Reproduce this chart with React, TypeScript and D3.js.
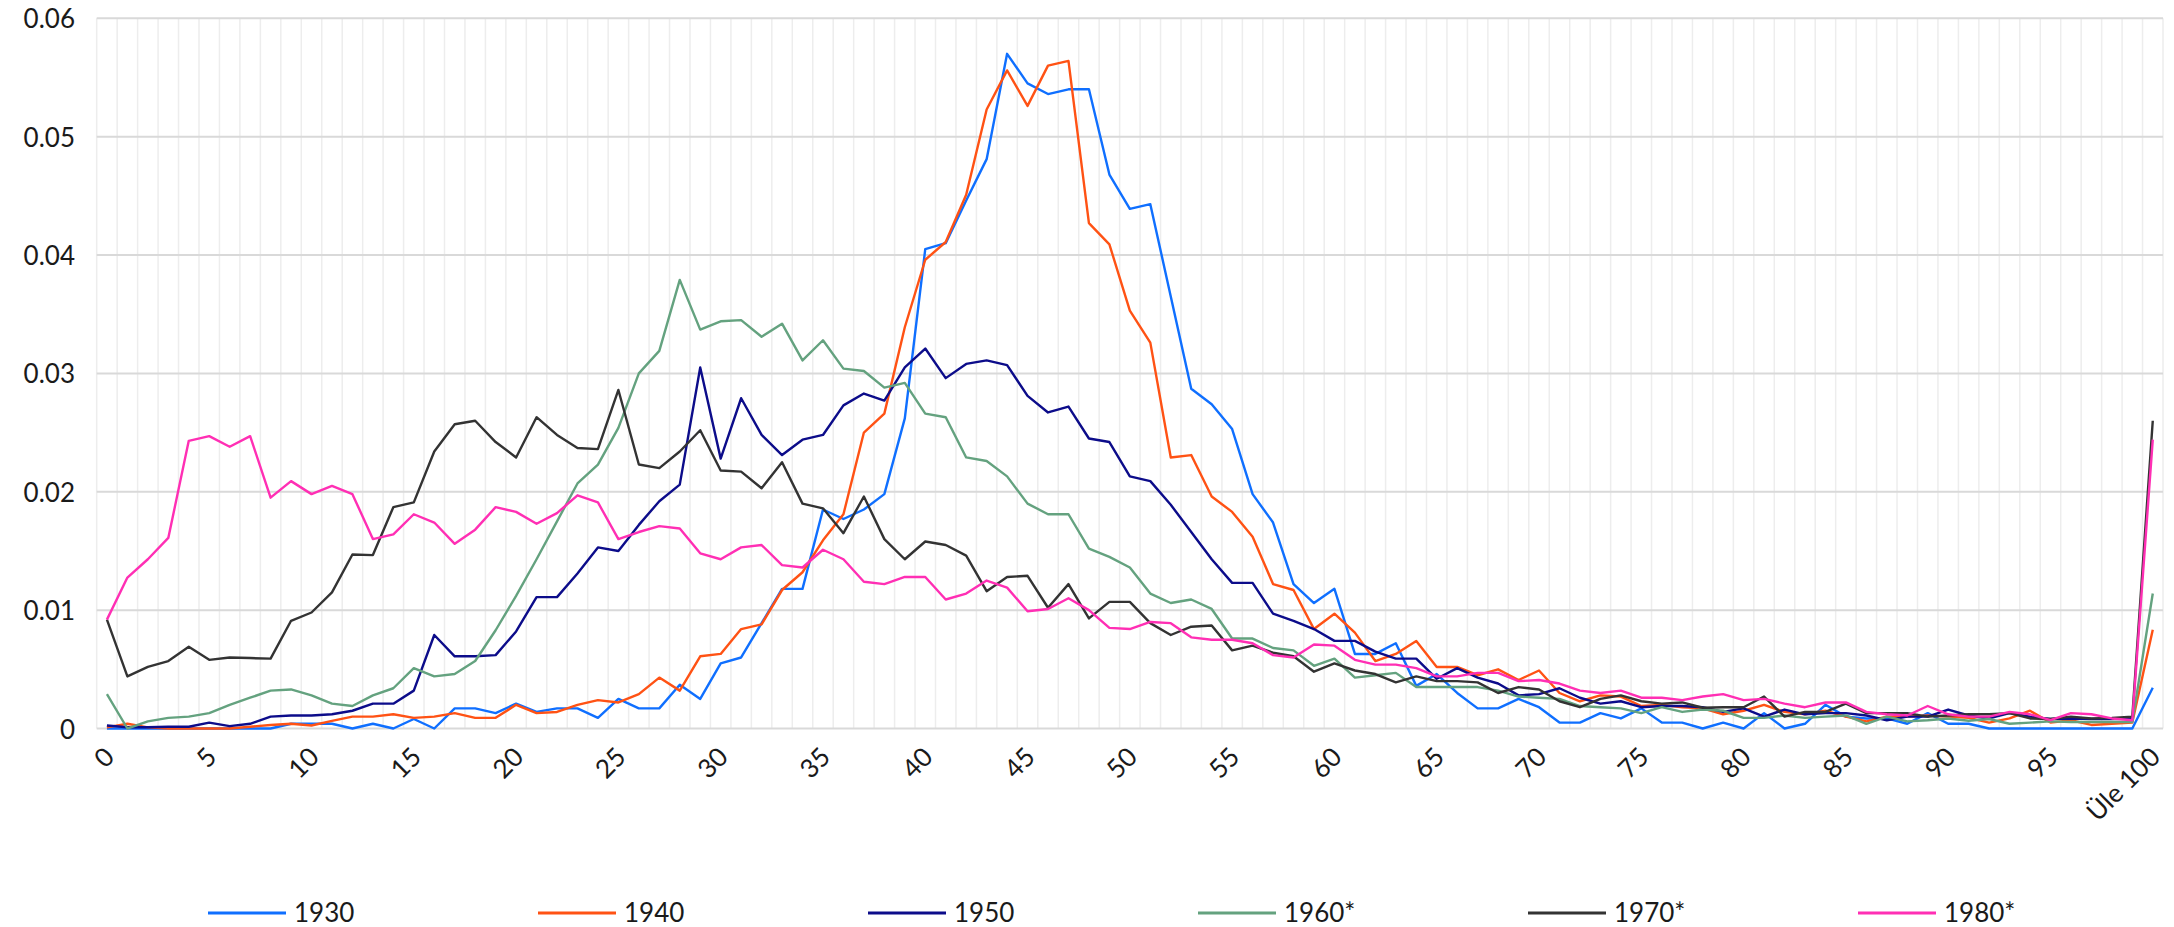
import React, { useEffect, useRef } from "react";
import * as d3 from "d3";

// age 0..99, last bucket is "Üle 100"
const ages = d3.range(0, 101);
const xTickAges = [0, 5, 10, 15, 20, 25, 30, 35, 40, 45, 50, 55, 60, 65, 70, 75, 80, 85, 90, 95, 100];
const xTickLabels = ["0", "5", "10", "15", "20", "25", "30", "35", "40", "45", "50", "55", "60", "65", "70", "75", "80", "85", "90", "95", "Üle 100"];
const yTicks = [0, 0.01, 0.02, 0.03, 0.04, 0.05, 0.06];
const yTickLabels = ["0", "0.01", "0.02", "0.03", "0.04", "0.05", "0.06"];

const seriesNames = ["1930", "1940", "1950", "1960*", "1970*", "1980*"];
const seriesColors = ["#0f6fff", "#ff5214", "#0c0c8a", "#64a27f", "#333333", "#ff2fb4"];

// values in thousandths
const s1930 = [
  0, 0, 0, 0, 0, 0, 0, 0, 0, 0.4, 0.4, 0.4, 0, 0.4, 0, 0.8, 0, 1.7, 1.7, 1.3,
  2.1, 1.4, 1.7, 1.7, 0.9, 2.5, 1.7, 1.7, 3.7, 2.5, 5.5, 6.0, 8.9, 11.8, 11.8, 18.5, 17.7, 18.5, 19.8, 26.2,
  40.5, 41.0, 44.6, 48.1, 57.0, 54.5, 53.6, 54.0, 54.0, 46.8, 43.9, 44.3, 36.5, 28.7, 27.4, 25.3, 19.8, 17.4, 12.2, 10.6,
  11.8, 6.3, 6.3, 7.2, 3.6, 4.6, 3.0, 1.7, 1.7, 2.5, 1.8, 0.5, 0.5, 1.3, 0.85, 1.7, 0.5, 0.5, 0, 0.5,
  0, 1.3, 0, 0.4, 2.0, 1.0, 0.85, 0.85, 0.4, 1.3, 0.4, 0.4, 0, 0, 0, 0, 0, 0, 0, 0, 3.45,
];
const s1940 = [
  0.1, 0.4, 0.1, 0, 0, 0, 0, 0.15, 0.3, 0.4, 0.25, 0.65, 1.0, 1.0, 1.2, 0.9, 1.0, 1.3, 0.9, 0.9,
  2.0, 1.3, 1.4, 2.0, 2.4, 2.2, 2.9, 4.3, 3.2, 6.1, 6.3, 8.4, 8.8, 11.7, 13.2, 15.9, 18.1, 25.0, 26.6, 33.9,
  39.6, 41.1, 45.1, 52.3, 55.6, 52.6, 56.0, 56.4, 42.7, 40.9, 35.3, 32.6, 22.9, 23.1, 19.6, 18.3, 16.2, 12.2, 11.7, 8.4,
  9.7, 8.1, 5.7, 6.3, 7.4, 5.2, 5.2, 4.5, 5.0, 4.1, 4.9, 3.0, 2.3, 2.8, 2.7, 1.9, 2.0, 1.8, 1.7, 1.2,
  1.5, 2.0, 1.4, 1.2, 1.5, 1.0, 0.6, 1.0, 1.0, 1.1, 1.0, 0.9, 0.5, 0.85, 1.5, 0.5, 0.7, 0.3, 0.4, 0.5, 8.35,
];
// no value for the last bucket
const s1950 = [
  0.25, 0.1, 0.1, 0.15, 0.15, 0.5, 0.2, 0.4, 1.0, 1.1, 1.1, 1.2, 1.5, 2.1, 2.1, 3.2, 7.9, 6.1, 6.1, 6.2,
  8.2, 11.1, 11.1, 13.1, 15.3, 15.0, 17.2, 19.2, 20.6, 30.5, 22.8, 27.9, 24.8, 23.1, 24.4, 24.8, 27.3, 28.3, 27.7, 30.5,
  32.1, 29.6, 30.8, 31.1, 30.7, 28.1, 26.7, 27.2, 24.5, 24.2, 21.3, 20.9, 18.9, 16.6, 14.3, 12.3, 12.3, 9.7, 9.1, 8.4,
  7.4, 7.4, 6.5, 5.9, 5.9, 4.2, 5.1, 4.3, 3.8, 2.8, 2.9, 3.4, 2.6, 2.1, 2.3, 1.8, 1.9, 1.9, 1.8, 1.4,
  1.7, 1.0, 1.6, 1.2, 1.3, 1.3, 1.1, 0.7, 1.0, 1.0, 1.6, 1.1, 0.85, 1.3, 1.0, 0.8, 0.85, 0.8, 0.8, 0.85, null,
];
const s1960 = [
  2.9, 0, 0.6, 0.9, 1.0, 1.3, 2.0, 2.6, 3.2, 3.3, 2.8, 2.1, 1.9, 2.8, 3.4, 5.1, 4.4, 4.6, 5.7, 8.3,
  11.2, 14.3, 17.5, 20.7, 22.3, 25.4, 30.0, 31.9, 37.9, 33.7, 34.4, 34.5, 33.1, 34.2, 31.1, 32.8, 30.4, 30.2, 28.8, 29.2,
  26.6, 26.3, 22.9, 22.6, 21.3, 19.0, 18.1, 18.1, 15.2, 14.5, 13.6, 11.4, 10.6, 10.9, 10.1, 7.6, 7.6, 6.8, 6.6, 5.3,
  5.9, 4.3, 4.5, 4.7, 3.5, 3.5, 3.5, 3.5, 3.2, 2.7, 2.6, 2.5, 1.9, 1.8, 1.7, 1.3, 1.8, 1.4, 1.6, 1.5,
  0.9, 0.9, 1.1, 0.9, 1.0, 1.1, 0.4, 1.0, 0.6, 0.7, 0.85, 0.65, 0.8, 0.4, 0.5, 0.6, 0.55, 0.55, 0.55, 0.55, 11.4,
];
const s1970 = [
  9.2, 4.4, 5.2, 5.7, 6.9, 5.8, 6.0, 5.95, 5.9, 9.1, 9.8, 11.5, 14.7, 14.65, 18.7, 19.1, 23.4, 25.7, 26.0, 24.2,
  22.9, 26.3, 24.8, 23.7, 23.6, 28.6, 22.3, 22.0, 23.4, 25.2, 21.8, 21.7, 20.3, 22.5, 19.0, 18.6, 16.5, 19.6, 16.0, 14.3,
  15.8, 15.5, 14.6, 11.6, 12.8, 12.9, 10.2, 12.2, 9.3, 10.7, 10.7, 8.9, 7.9, 8.6, 8.7, 6.6, 7.0, 6.4, 6.1, 4.8,
  5.5, 4.9, 4.6, 3.9, 4.4, 4.0, 4.0, 3.9, 3.0, 3.5, 3.3, 2.3, 1.8, 2.5, 2.8, 2.3, 2.1, 2.2, 1.75, 1.8,
  1.8, 2.7, 1.0, 1.4, 1.4, 2.1, 1.3, 1.3, 1.3, 1.0, 1.1, 1.2, 1.2, 1.3, 0.85, 0.8, 1.0, 0.85, 0.9, 1.0, 26.0,
];
const s1980 = [
  9.2, 12.75, 14.3, 16.1, 24.3, 24.7, 23.8, 24.7, 19.5, 20.9, 19.8, 20.5, 19.8, 16.0, 16.4, 18.1, 17.4, 15.6, 16.8, 18.7,
  18.3, 17.3, 18.2, 19.7, 19.1, 16.0, 16.6, 17.1, 16.9, 14.8, 14.3, 15.3, 15.5, 13.8, 13.6, 15.1, 14.3, 12.4, 12.2, 12.8,
  12.8, 10.9, 11.4, 12.5, 11.9, 9.9, 10.1, 11.0, 10.0, 8.5, 8.4, 9.0, 8.9, 7.7, 7.5, 7.5, 7.2, 6.2, 6.0, 7.1,
  7.0, 5.8, 5.4, 5.4, 5.1, 4.4, 4.4, 4.7, 4.7, 4.0, 4.1, 3.8, 3.2, 3.0, 3.2, 2.6, 2.6, 2.4, 2.7, 2.9,
  2.4, 2.5, 2.1, 1.8, 2.2, 2.2, 1.4, 1.2, 1.1, 1.9, 1.2, 1.0, 1.0, 1.4, 1.2, 0.7, 1.3, 1.2, 0.85, 0.7, 24.4,
];
const seriesValues = [s1930, s1940, s1950, s1960, s1970, s1980];

const AgeChart = () => {
  const chartRef = useRef(null);

  useEffect(() => {
    const width = 2174;
    const height = 927;
    const left = 96.7;
    const right = 2163;
    const top = 18.3;
    const bottom = 728.5;
    const font = "Lato, 'Noto Sans', sans-serif";

    const svg = d3
      .select(chartRef.current)
      .attr("width", width)
      .attr("height", height)
      .style("display", "block")
      .style("background", "#fff");

    const x = d3.scaleBand<number>().domain(ages).range([left, right]).padding(0);
    const y = d3.scaleLinear().domain([0, 0.06]).range([bottom, top]);
    const cx = (a: number) => (x(a) as number) + x.bandwidth() / 2;

    // vertical grid, between categories
    svg
      .append("g")
      .selectAll("line")
      .data(ages.concat([101]))
      .enter()
      .append("line")
      .attr("x1", (d) => (d === 101 ? right : (x(d) as number)))
      .attr("x2", (d) => (d === 101 ? right : (x(d) as number)))
      .attr("y1", top)
      .attr("y2", bottom)
      .attr("stroke", "#ededed")
      .attr("stroke-width", 1.5);

    // horizontal grid
    svg
      .append("g")
      .selectAll("line")
      .data(yTicks)
      .enter()
      .append("line")
      .attr("x1", left)
      .attr("x2", right)
      .attr("y1", (d) => y(d))
      .attr("y2", (d) => y(d))
      .attr("stroke", "#d9d9d9")
      .attr("stroke-width", 2);

    // y labels
    svg
      .append("g")
      .selectAll("text")
      .data(yTicks)
      .enter()
      .append("text")
      .attr("x", 75)
      .attr("y", (d) => y(d))
      .attr("text-anchor", "end")
      .attr("dominant-baseline", "central")
      .style("font-family", font)
      .style("font-size", "26px")
      .style("fill", "#1a1a1a")
      .text((d, i) => yTickLabels[i]);

    // x labels, rotated
    svg
      .append("g")
      .selectAll("text")
      .data(xTickAges)
      .enter()
      .append("text")
      .attr("transform", (d) => `translate(${cx(d) + 2}, ${bottom + 23}) rotate(-45)`)
      .attr("text-anchor", "end")
      .attr("dominant-baseline", "central")
      .style("font-family", font)
      .style("font-size", "26px")
      .style("fill", "#1a1a1a")
      .text((d, i) => xTickLabels[i]);

    const line = d3
      .line<number | null>()
      .defined((d) => d != null)
      .x((d, i) => cx(ages[i]))
      .y((d) => y((d as number) / 1000));

    svg
      .append("g")
      .selectAll("path")
      .data(seriesValues)
      .enter()
      .append("path")
      .attr("d", (d) => line(d))
      .attr("fill", "none")
      .attr("stroke", (d, i) => seriesColors[i])
      .attr("stroke-width", 2.4)
      .attr("stroke-linejoin", "round");

    // legend
    const lx = d3.scaleLinear().domain([0, 5]).range([208, 1858]);
    const legend = svg
      .append("g")
      .selectAll("g")
      .data(seriesNames)
      .enter()
      .append("g")
      .attr("transform", (d, i) => `translate(${lx(i)}, 912)`);

    legend
      .append("line")
      .attr("x1", 0)
      .attr("x2", 78)
      .attr("y1", 1)
      .attr("y2", 1)
      .attr("stroke", (d, i) => seriesColors[i])
      .attr("stroke-width", 3);

    legend
      .append("text")
      .attr("x", 86)
      .attr("dominant-baseline", "central")
      .style("font-family", font)
      .style("font-size", "26px")
      .style("fill", "#1a1a1a")
      .text((d) => d);

    return () => {
      d3.select(chartRef.current).selectAll("*").remove();
    };
  }, []);

  return <svg ref={chartRef}></svg>;
};

export default function App() {
  return (
    <div style={{ position: "absolute", left: 0, top: 0 }}>
      <AgeChart />
    </div>
  );
}
